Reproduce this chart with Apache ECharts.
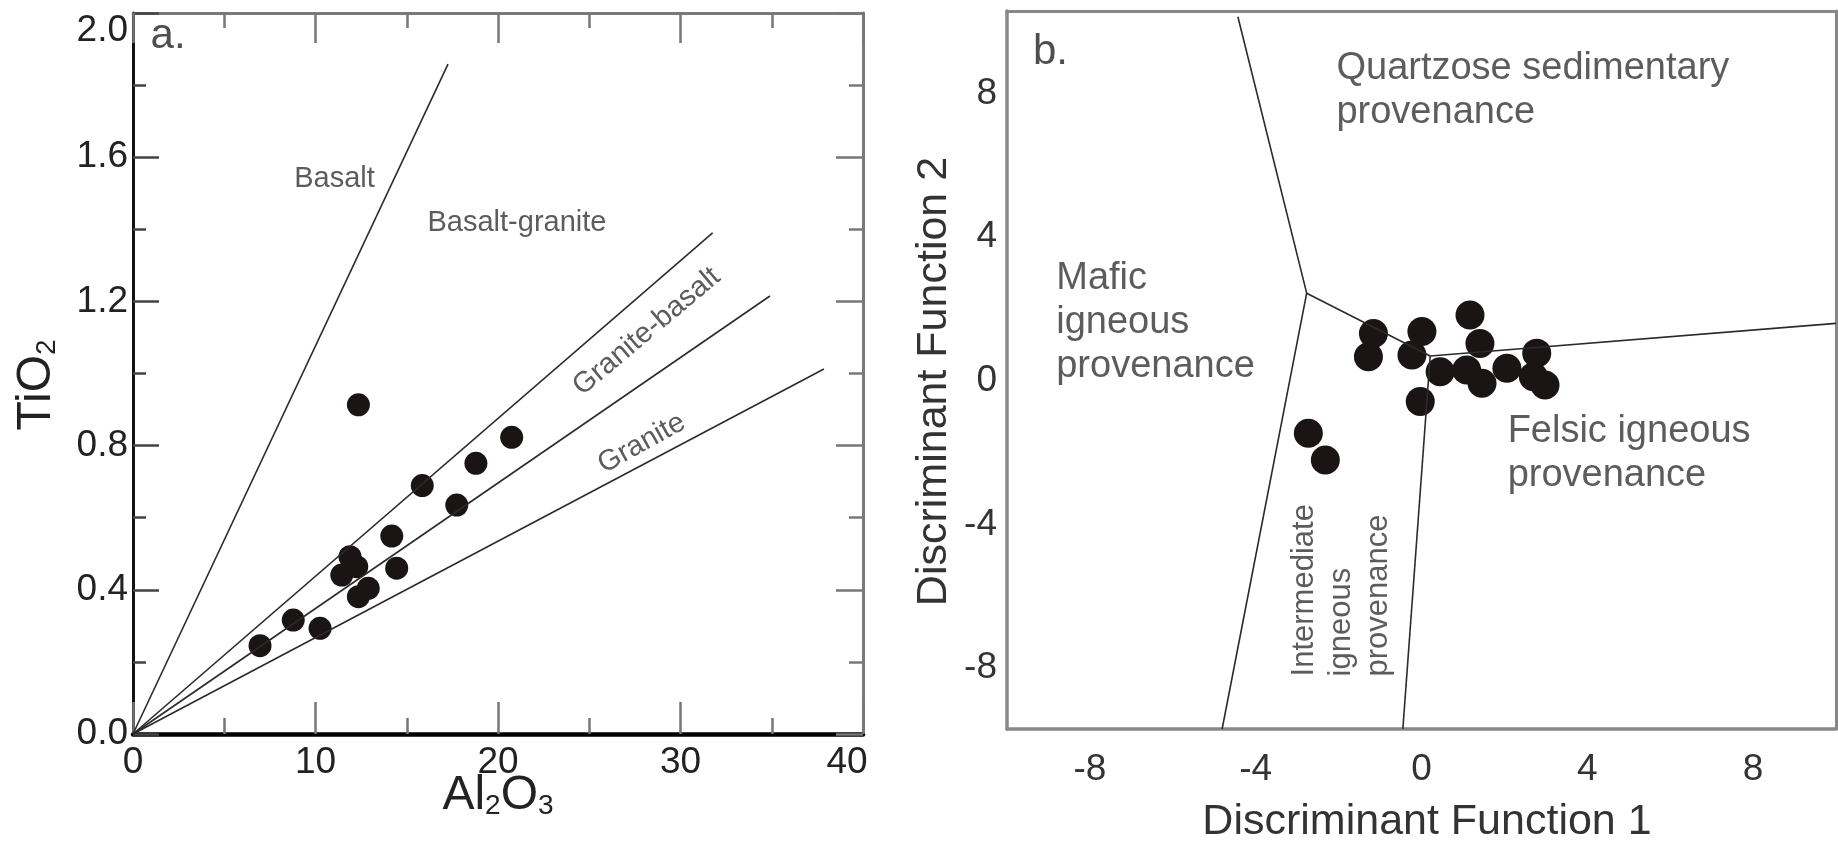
<!DOCTYPE html>
<html>
<head>
<meta charset="utf-8">
<script src="https://cdn.jsdelivr.net/npm/echarts@6/dist/echarts.min.js"></script>
<style>
html, body { margin: 0; padding: 0; background: #fff; }
#main { width: 1838px; height: 846px; }
</style>
</head>
<body>
<div id="main"></div>
<script>
// panel a: TiO2 vs Al2O3
var aAl2O3 = [6.96, 8.78, 10.25, 11.44, 11.89, 12.26, 12.35, 12.89, 14.18, 14.45, 15.85, 12.35, 17.74, 18.79, 20.75];
var aTiO2  = [0.245, 0.316, 0.293, 0.441, 0.492, 0.464, 0.381, 0.404, 0.549, 0.460, 0.689, 0.913, 0.635, 0.751, 0.823];
// field boundaries, all start at the origin
var aLineEnds = [[17.26, 1.858], [31.76, 1.39], [34.9, 1.215], [37.86, 1.0125]];
var aRegionNames = ['Basalt', 'Basalt-granite', 'Granite-basalt', 'Granite'];
var aRegionAt = [[11.04, 1.54], [21.04, 1.417], [28.15, 1.116], [27.87, 0.806]];
var aRegionTilt = [0, 0, 40, 29];

// panel b: discriminant functions
var bDF1 = [-1.16, -1.28, 0.01, -0.23, 1.17, 1.41, 0.45, 1.09, 1.46, 2.06, 2.78, 2.70, 2.98, -0.03, -2.73, -2.32];
var bDF2 = [1.32, 0.67, 1.37, 0.72, 1.83, 1.04, 0.25, 0.30, -0.07, 0.35, 0.77, 0.11, -0.12, -0.58, -1.46, -2.21];
var bBoundaries = [
    [[-4.43, 10.14], [-2.77, 2.44], [-4.81, -9.7]],
    [[-2.77, 2.44], [0.21, 0.69], [10, 1.60]],
    [[0.21, 0.69], [-0.45, -9.7]]
];
var bTicks = [-8, -4, 0, 4, 8];
var bRegionNames = ['Quartzose sedimentary\nprovenance', 'Mafic\nigneous\nprovenance', 'Felsic igneous\nprovenance'];
var bRegionAt = [[-2.04, 8.07], [-8.80, 1.62], [2.09, -2.04]];
var bSideName = 'Intermediate\nigneous\nprovenance';
var bSideAt = [-1.92, -8.25];

var FONT = 'Liberation Sans';

var chart = echarts.init(document.getElementById('main'));

var subRich = {
    m: {fontSize: 48, lineHeight: 48, color: '#222', fontFamily: FONT},
    s: {fontSize: 28, lineHeight: 14, verticalAlign: 'bottom', color: '#222', fontFamily: FONT}
};

function boundary(pts, xi, yi) {
    return {
        type: 'line', xAxisIndex: xi, yAxisIndex: yi, data: pts,
        showSymbol: false, symbol: 'none', silent: true,
        lineStyle: {color: '#2b2b2b', width: 1.6}
    };
}

function textLayer(xi, yi, items, label) {
    return {
        type: 'scatter', xAxisIndex: xi, yAxisIndex: yi, symbolSize: 1, silent: true, z: 5,
        itemStyle: {color: 'rgba(0,0,0,0)'},
        label: Object.assign({show: true, fontFamily: FONT, color: '#333'}, label),
        data: items
    };
}

var grayTick = {color: '#777', width: 2.5};

var series = [];
aLineEnds.forEach(function (e) { series.push(boundary([[0, 0], e], 0, 0)); });
bBoundaries.forEach(function (b) { series.push(boundary(b, 2, 2)); });

series.push({
    type: 'scatter', xAxisIndex: 0, yAxisIndex: 0, symbolSize: 23, silent: true,
    itemStyle: {color: '#1a1414', opacity: 1},
    data: aAl2O3.map(function (x, i) { return [x, aTiO2[i]]; })
});
series.push({
    type: 'scatter', xAxisIndex: 2, yAxisIndex: 2, symbolSize: 29, silent: true,
    itemStyle: {color: '#1a1414', opacity: 1},
    data: bDF1.map(function (x, i) { return [x, bDF2[i]]; })
});

series.push(textLayer(0, 0, aRegionNames.map(function (n, i) {
    return {value: aRegionAt[i], label: {formatter: n, rotate: aRegionTilt[i]}};
}), {position: 'inside', fontSize: 29}));
series.push(textLayer(0, 0, [{value: [1.92, 1.935], label: {formatter: 'a.'}}],
    {position: 'inside', fontSize: 42, color: '#222'}));
series.push(textLayer(2, 2, [{value: [-8.95, 9.15], label: {formatter: 'b.'}}],
    {position: 'inside', fontSize: 42, color: '#222'}));
series.push(textLayer(2, 2, bRegionNames.map(function (n, i) {
    return {value: bRegionAt[i], label: {formatter: n}};
}), {position: [0, 0], align: 'left', verticalAlign: 'middle', fontSize: 38, lineHeight: 44}));
series.push(textLayer(2, 2, [{value: bSideAt, label: {formatter: bSideName}}],
    {position: [0, 0], align: 'left', verticalAlign: 'middle', rotate: 90, fontSize: 31, lineHeight: 37}));

var option = {
    animation: false,
    backgroundColor: '#fff',
    textStyle: {fontFamily: FONT},
    grid: [
        {left: 133, top: 13, width: 730, height: 721, outerBoundsMode: 'none'},
        {left: 1007, top: 11, width: 829, height: 718, outerBoundsMode: 'none'}
    ],
    xAxis: [
        {
            gridIndex: 0, type: 'value', min: 0, max: 40, interval: 10, position: 'bottom',
            axisLine: {onZero: false, lineStyle: {color: '#000', width: 4.5}},
            axisTick: {inside: true, length: 32, lineStyle: grayTick},
            minorTick: {show: true, splitNumber: 2, length: 16, lineStyle: grayTick},
            splitLine: {show: false},
            axisLabel: {
                margin: 10, fontSize: 37, color: '#222', fontFamily: FONT,
                formatter: function (v) { return v === 40 ? '{r|40}' : String(v); },
                rich: {r: {fontSize: 37, color: '#222', fontFamily: FONT, padding: [0, 32, 0, 0]}}
            },
            name: '{m|Al}{s|2}{m|O}{s|3}', nameLocation: 'middle', nameGap: 62, nameMoveOverlap: false,
            nameTextStyle: {verticalAlign: 'middle', rich: subRich}
        },
        {
            gridIndex: 0, type: 'value', min: 0, max: 40, interval: 10, position: 'top',
            axisLine: {onZero: false, lineStyle: {color: '#7a7a7a', width: 3}},
            axisTick: {inside: true, length: 30, lineStyle: grayTick},
            minorTick: {show: true, splitNumber: 2, length: 15, lineStyle: grayTick},
            splitLine: {show: false}, axisLabel: {show: false}
        },
        {
            gridIndex: 1, type: 'value', min: -10, max: 10, position: 'bottom',
            axisLine: {onZero: false, lineStyle: {color: '#888', width: 3.5}},
            axisTick: {show: false}, splitLine: {show: false},
            axisLabel: {customValues: bTicks, margin: 22, fontSize: 37, color: '#333', fontFamily: FONT},
            name: 'Discriminant Function 1', nameLocation: 'middle', nameGap: 93, nameMoveOverlap: false,
            nameTextStyle: {fontSize: 43, color: '#333', verticalAlign: 'middle', padding: [0, 0, 0, 11]}
        },
        {
            gridIndex: 1, type: 'value', min: -10, max: 10, position: 'top',
            axisLine: {onZero: false, lineStyle: {color: '#888', width: 3}},
            axisTick: {show: false}, splitLine: {show: false}, axisLabel: {show: false}
        }
    ],
    yAxis: [
        {
            gridIndex: 0, type: 'value', min: 0, max: 2, interval: 0.4, position: 'left',
            axisLine: {onZero: false, lineStyle: {color: '#111', width: 3}},
            axisTick: {inside: true, length: 26, lineStyle: {color: '#444', width: 2.5}},
            minorTick: {show: true, splitNumber: 2, length: 13, lineStyle: {color: '#444', width: 2.5}},
            splitLine: {show: false},
            axisLabel: {
                margin: 5, fontSize: 37, color: '#222', fontFamily: FONT,
                formatter: function (v) {
                    var s = v.toFixed(1);
                    return v > 1.99 ? '{t|' + s + '}' : s;
                },
                rich: {t: {fontSize: 37, color: '#222', fontFamily: FONT, padding: [36, 0, 0, 0]}}
            },
            name: '{m|TiO}{s|2}', nameLocation: 'middle', nameGap: 96, nameMoveOverlap: false,
            nameTextStyle: {verticalAlign: 'middle', padding: [0, 23, 0, 0], rich: subRich}
        },
        {
            gridIndex: 0, type: 'value', min: 0, max: 2, interval: 0.4, position: 'right',
            axisLine: {onZero: false, lineStyle: {color: '#7a7a7a', width: 3}},
            axisTick: {inside: true, length: 27, lineStyle: grayTick},
            minorTick: {show: true, splitNumber: 2, length: 14, lineStyle: grayTick},
            splitLine: {show: false}, axisLabel: {show: false}
        },
        {
            gridIndex: 1, type: 'value', min: -9.7, max: 10.3, position: 'left',
            axisLine: {onZero: false, lineStyle: {color: '#888', width: 3.5}},
            axisTick: {show: false}, splitLine: {show: false},
            axisLabel: {customValues: bTicks, margin: 10, fontSize: 37, color: '#333', fontFamily: FONT},
            name: 'Discriminant Function 2', nameLocation: 'middle', nameGap: 73, nameMoveOverlap: false,
            nameTextStyle: {fontSize: 43, color: '#333', verticalAlign: 'middle', padding: [0, 23, 0, 0]}
        },
        {
            gridIndex: 1, type: 'value', min: -9.7, max: 10.3, position: 'right',
            axisLine: {onZero: false, lineStyle: {color: '#888', width: 3}},
            axisTick: {show: false}, splitLine: {show: false}, axisLabel: {show: false}
        }
    ],
    series: series
};

chart.setOption(option);
</script>
</body>
</html>
